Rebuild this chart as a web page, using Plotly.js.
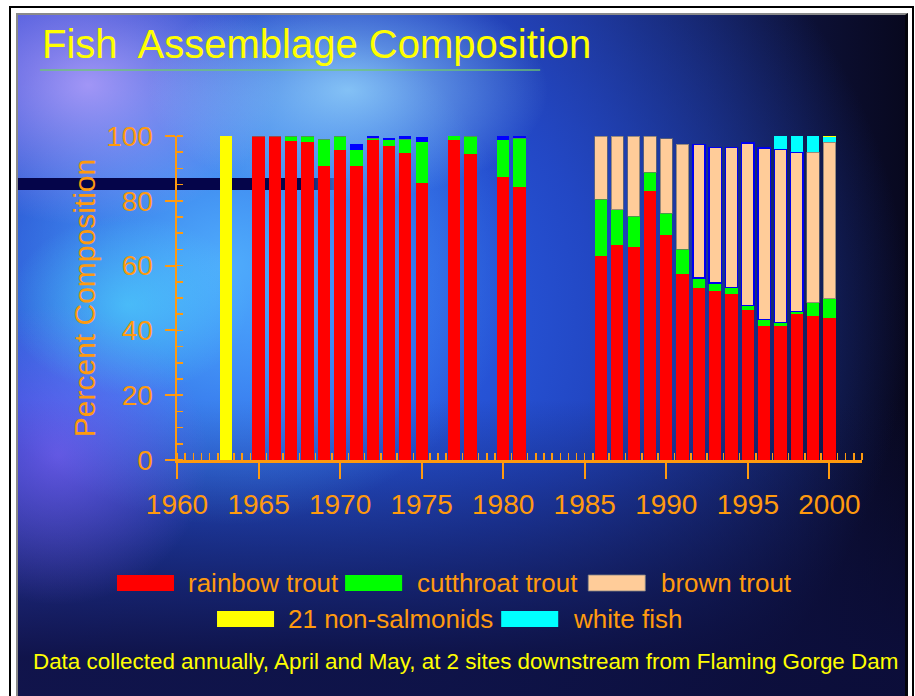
<!DOCTYPE html>
<html><head><meta charset="utf-8">
<script src="https://cdn.plot.ly/plotly-3.0.1.min.js"></script>
<style>
html,body{margin:0;padding:0;background:#fff;width:915px;height:696px;overflow:hidden;}
#frame{position:absolute;left:9px;top:6px;width:905px;height:720px;border:2px solid #000;box-sizing:border-box;}
#bg{position:absolute;left:16px;top:13px;width:892px;height:700px;box-sizing:border-box;
 border-left:2px solid #8a8a8a;border-top:2px solid #8a8a8a;border-right:3px solid #04040c;
 background:
  radial-gradient(ellipse 200px 110px at 330px 75px, rgba(160,225,255,0.75), rgba(160,225,255,0)),
  radial-gradient(ellipse 120px 90px at 110px 290px, rgba(80,225,255,0.55), rgba(80,225,255,0)),
  radial-gradient(ellipse 190px 140px at 70px 70px, rgba(190,165,255,0.8), rgba(190,165,255,0)),
  radial-gradient(ellipse 150px 150px at 40px 440px, rgba(140,100,255,0.6), rgba(140,100,255,0)),
  radial-gradient(ellipse 290px 260px at 210px 250px, rgba(85,185,255,0.85), rgba(85,185,255,0)),
  linear-gradient(to bottom, rgba(12,14,60,0) 55%, rgba(12,14,60,0.9) 92%),
  radial-gradient(ellipse 620px 560px at 270px 300px, rgba(45,105,245,1) 0%, rgba(35,75,205,0.9) 50%, rgba(20,30,110,0) 100%),
  linear-gradient(to right, #4a48dc 0%, #2a3aa8 45%, #152060 70%, #08081f 100%);}
#band{position:absolute;left:18px;top:178px;width:330px;height:12px;background:linear-gradient(to right,#05054a 0%,#05054a 86%,rgba(5,5,74,0) 100%);}
#chart{position:absolute;left:0;top:0;width:915px;height:696px;}
</style></head>
<body>
<div id="frame"></div>
<div id="bg"></div>
<div id="band"></div>
<div id="chart"></div>
<script>
// ---- data ----
const years = [1963,1965,1966,1967,1968,1969,1970,1971,1972,1973,1974,1975,1977,1978,1980,1981,
  1986,1987,1988,1989,1990,1991,1992,1993,1994,1995,1996,1997,1998,1999,2000];
const rainbowTrout = [0,100,100,98.5,98,90.8,95.7,90.8,98.8,96.9,94.7,85.6,98.8,94.4,87.4,84.2,
  63.1,66.4,65.7,83.0,69.6,57.5,53.2,52.3,51.3,46.3,41.4,41.4,45.2,44.6,43.8];
const cutthroatTrout = [0,0,0,1.5,2,8.2,4.3,4.9,0.5,1.9,4.3,12.7,2.0,5.6,11.4,15.1,
  17.4,10.8,9.5,5.8,6.6,7.5,3.0,2.4,2.0,1.4,2.0,1.1,0.6,3.9,6.0];
const brownTrout = [0,0,0,0,0,0,0,0,0,0,0,0,0,0,0,0,
  19.5,22.8,24.8,11.2,22.9,32.4,41.2,41.8,43.2,50.1,52.9,53.5,49.2,46.5,48.2];
const whiteFish = [0,0,0,0,0,0,0,0,0,0,0,0,0,0,0,0,
  0,0,0,0,0,0,0,0,0,0,0,4.3,5.0,5.3,1.8];
const nonSalmonids = [100,0,0,0,0,0,0,0,0,0,0,0,0,0,0,0,
  0,0,0,0,0,0,0,0,0,0,0,0.3,0,0,0.5];
const otherFish = [0,0,0,0,0,0,0,1.8,1.4,0.6,1.0,1.4,0,0,1.2,0.7,
  0,0,0,0,0,0,0,0,0,0,0,0,0,0,0];
const seriesNames = ['rainbow trout','cutthroat trout','brown trout','white fish','21 non-salmonids','other'];
const xRange = [1960, 2002];
const yRange = [0, 100];
const titleText = 'Fish\u00a0 Assemblage Composition';
const yTitle = 'Percent Composition';
const footnote = 'Data collected annually, April and May, at 2 sites downstream from Flaming Gorge Dam';

// ---- style ----
const ORANGE = '#FF9A0E';
const FONT = 'Liberation Sans, Arial, sans-serif';
const colors = ['#FF0000','#00FF00','#FFCC99','#00FFFF','#FFFF00','#0000FF'];
const seriesValues = [rainbowTrout, cutthroatTrout, brownTrout, whiteFish, nonSalmonids, otherFish];
const blueEdge = new Set([1992,1993,1994,1995,1996,1997,1998]);

const traces = seriesValues.map((vals, i) => {
  const line = {width: 0};
  if (i === 2) {
    line.width = years.map(y => blueEdge.has(y) ? 1.5 : 1);
    line.color = years.map(y => blueEdge.has(y) ? '#0000EE' : 'rgba(110,110,110,0.7)');
  }
  return {type:'bar', x: years, y: vals, name: seriesNames[i], width: 0.75,
    marker:{color: colors[i], line: line}, showlegend:false, hoverinfo:'skip'};
});

// plot area in pixels
const L = 177, Rr = 861.6, T = 136, B = 460, W = Rr - L, H = B - T;
const px = x => (x - L) / W;
const py = y => (B - y) / H;

const shapes = [
  {type:'line', xref:'paper', yref:'paper', x0:px(40), x1:px(540), y0:py(70), y1:py(70),
   line:{color:'rgba(110,200,110,0.9)', width:1.5}}
];
const annotations = [];
// custom legend (swatch + label)
const legendItems = [
  {s:0, sx:117, tx:186, y:583}, {s:1, sx:345, tx:415, y:583}, {s:2, sx:588, tx:659, y:583},
  {s:4, sx:217, tx:286, y:619}, {s:3, sx:501, tx:571, y:619}
];
legendItems.forEach(it => {
  shapes.push({type:'rect', xref:'paper', yref:'paper', x0:px(it.sx), x1:px(it.sx+57),
    y0:py(it.y-8), y1:py(it.y+8), fillcolor:colors[it.s],
    line:{width: it.s===2 ? 1 : 0, color:'rgba(130,130,130,0.8)'}});
  annotations.push({xref:'paper', yref:'paper', x:px(it.tx), y:py(it.y), xanchor:'left', yanchor:'middle',
    text: seriesNames[it.s], showarrow:false, font:{family:FONT, size:26, color:ORANGE}});
});
annotations.push({xref:'paper', yref:'paper', x:px(465), y:py(661), xanchor:'center', yanchor:'middle',
  text: footnote, showarrow:false, font:{family:FONT, size:22.4, color:'#FFFF00'}});

const layout = {
  width:915, height:696,
  margin:{l:L, r:915-Rr, t:T, b:696-B, pad:0},
  paper_bgcolor:'rgba(0,0,0,0)', plot_bgcolor:'rgba(0,0,0,0)',
  barmode:'stack', showlegend:false,
  title:{text:titleText, font:{family:FONT, size:40, color:'#FFFF00'},
    xref:'container', yref:'container', x:42/915, xanchor:'left', y:1-44/696, yanchor:'middle'},
  xaxis:{range:xRange, showline:true, linecolor:ORANGE, linewidth:2.5, ticks:'outside', ticklen:16,
    tickwidth:2, tickcolor:ORANGE, tickmode:'linear', tick0:1960, dtick:5,
    tickfont:{family:FONT, size:28, color:ORANGE}, showgrid:false, zeroline:false, layer:'below traces',
    ticklabelstandoff:2, fixedrange:true,
    minor:{tickmode:'linear', tick0:1960, dtick:0.5, ticks:'inside', ticklen:7, tickwidth:1.5,
      tickcolor:ORANGE, showgrid:false}},
  xaxis2:{overlaying:'x', anchor:'y', range:xRange, ticks:'inside', ticklen:17, tickwidth:2, tickcolor:ORANGE,
    tickmode:'linear', tick0:1960, dtick:5, showticklabels:false, showline:false, showgrid:false,
    zeroline:false, layer:'below traces', fixedrange:true},
  yaxis:{range:yRange, showline:true, linecolor:ORANGE, linewidth:2.5, ticks:'outside', ticklen:10,
    tickwidth:2, tickcolor:ORANGE, tickmode:'linear', tick0:0, dtick:20,
    tickfont:{family:FONT, size:28, color:ORANGE}, showgrid:false, zeroline:false, layer:'below traces',
    ticklabelstandoff:6, fixedrange:true,
    title:{text:yTitle, font:{family:FONT, size:30, color:ORANGE}, standoff:2},
    minor:{tickmode:'linear', tick0:0, dtick:5, ticks:'inside', ticklen:6, tickwidth:1.5,
      tickcolor:ORANGE, showgrid:false}},
  yaxis2:{overlaying:'y', anchor:'x', range:yRange, ticks:'inside', ticklen:11, tickwidth:2, tickcolor:ORANGE,
    tickmode:'linear', tick0:0, dtick:20, showticklabels:false, showline:false, showgrid:false,
    zeroline:false, layer:'below traces', fixedrange:true},
  shapes: shapes,
  annotations: annotations
};
Plotly.newPlot('chart', traces, layout, {staticPlot:true, displayModeBar:false});
</script>
</body></html>
